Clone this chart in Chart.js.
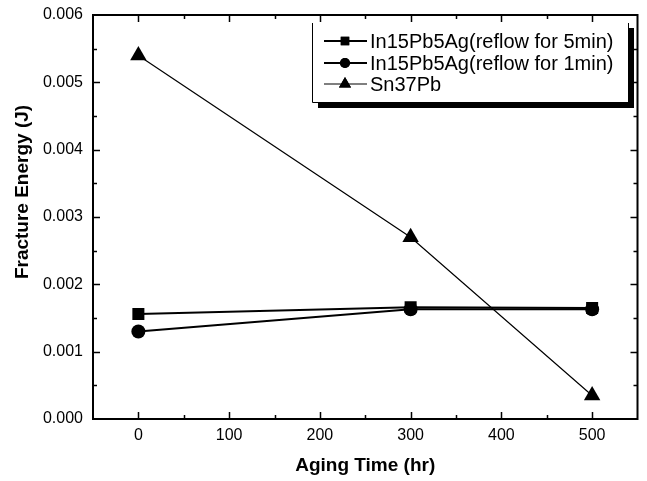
<!DOCTYPE html>
<html>
<head>
<meta charset="utf-8">
<script src="https://cdn.jsdelivr.net/npm/chart.js@4/dist/chart.umd.min.js"></script>
<style>
html,body{margin:0;padding:0;background:#fff;}
canvas{display:block;}
</style>
</head>
<body>
<canvas id="c" width="647" height="481"></canvas>
<script>
// ---- data ----
const agingTime = [0, 300, 500];
const in15Reflow5 = [0.00156, 0.00166, 0.00165];
const in15Reflow1 = [0.00130, 0.00163, 0.00163];
const sn37Pb = [0.00540, 0.00270, 0.00035];
const seriesLabels = ['In15Pb5Ag(reflow for 5min)', 'In15Pb5Ag(reflow for 1min)', 'Sn37Pb'];
const xTickValues = [0, 100, 200, 300, 400, 500];
const yTickValues = [0, 0.001, 0.002, 0.003, 0.004, 0.005, 0.006];
const xTitle = 'Aging Time (hr)';
const yTitle = 'Fracture Energy (J)';

const pts = arr => agingTime.map((x, i) => ({x: x, y: arr[i]}));
const FONT = '"Liberation Sans", Arial, sans-serif';

const framePlugin = {
  id: 'frame',
  afterDraw(chart) {
    const ctx = chart.ctx;
    const a = chart.chartArea;
    const xs = chart.scales.x, ys = chart.scales.y;
    ctx.save();
    ctx.strokeStyle = '#000';
    ctx.lineWidth = 2;
    ctx.strokeRect(a.left, a.top, a.right - a.left, a.bottom - a.top);
    ctx.lineWidth = 1.5;
    for (let v = Math.ceil(xs.min / 50) * 50; v <= xs.max; v += 50) {
      const px = Math.round(xs.getPixelForValue(v)) + 0.5;
      if (px <= a.left + 1 || px >= a.right - 1) continue;
      const len = (v % 100 === 0) ? 7 : 4;
      ctx.beginPath();
      ctx.moveTo(px, a.bottom); ctx.lineTo(px, a.bottom - len);
      ctx.moveTo(px, a.top); ctx.lineTo(px, a.top + len);
      ctx.stroke();
    }
    for (let k = 0; k <= 12; k++) {
      const v = k * 0.0005;
      const py = Math.round(ys.getPixelForValue(v)) + 0.5;
      if (py <= a.top + 1 || py >= a.bottom - 1) continue;
      const len = (k % 2 === 0) ? 7 : 4;
      ctx.beginPath();
      ctx.moveTo(a.left, py); ctx.lineTo(a.left + len, py);
      ctx.moveTo(a.right, py); ctx.lineTo(a.right - len, py);
      ctx.stroke();
    }
    ctx.fillStyle = '#000';
    ctx.font = 'bold 19px ' + FONT;
    ctx.textAlign = 'center';
    ctx.textBaseline = 'middle';
    ctx.fillText(xTitle, (a.left + a.right) / 2, 466);
    ctx.save();
    ctx.translate(23, 192);
    ctx.rotate(-Math.PI / 2);
    ctx.fillText(yTitle, 0, 0);
    ctx.restore();

    const lx = 312, ly = 23, lw = 316, lh = 79;
    ctx.fillStyle = '#000';
    ctx.fillRect(lx + lw, ly + 5, 6, lh + 1);
    ctx.fillRect(lx + 6, ly + lh, lw, 6);
    ctx.fillStyle = '#fff';
    ctx.fillRect(lx, ly, lw, lh);
    ctx.strokeStyle = '#000';
    ctx.lineWidth = 1;
    ctx.beginPath();
    ctx.moveTo(lx + 0.5, ly); ctx.lineTo(lx + 0.5, ly + lh + 0.5);
    ctx.lineTo(lx + lw + 0.5, ly + lh + 0.5); ctx.lineTo(lx + lw + 0.5, ly);
    ctx.stroke();
    const rowsY = [41, 63, 84];
    chart.data.datasets.forEach((ds, i) => {
      const y = rowsY[i];
      ctx.strokeStyle = '#000';
      ctx.lineWidth = ds.borderWidth;
      ctx.beginPath();
      ctx.moveTo(324, y); ctx.lineTo(367, y);
      ctx.stroke();
      ctx.fillStyle = '#000';
      Chart.helpers.drawPoint(ctx, {pointStyle: ds.pointStyle, rotation: 0, borderWidth: 0, radius: ds.legendRadius}, 345, y);
      ctx.fill();
      ctx.fillStyle = '#000';
      ctx.font = '20px ' + FONT;
      ctx.textAlign = 'left';
      ctx.textBaseline = 'middle';
      ctx.fillText(ds.label, 370, y + 1);
    });
    ctx.restore();
  }
};

new Chart(document.getElementById('c'), {
  type: 'line',
  data: {
    datasets: [
      {label: seriesLabels[0], data: pts(in15Reflow5), borderColor: '#000', backgroundColor: '#000',
       borderWidth: 2, pointStyle: 'rect', pointRadius: 8.5, pointBorderWidth: 0, legendRadius: 6},
      {label: seriesLabels[1], data: pts(in15Reflow1), borderColor: '#000', backgroundColor: '#000',
       borderWidth: 2, pointStyle: 'circle', pointRadius: 7, pointBorderWidth: 0, legendRadius: 5},
      {label: seriesLabels[2], data: pts(sn37Pb), borderColor: '#000', backgroundColor: '#000',
       borderWidth: 1.2, pointStyle: 'triangle', pointRadius: 9.5, pointBorderWidth: 0, legendRadius: 7}
    ]
  },
  options: {
    responsive: false,
    animation: false,
    layout: {padding: {left: 0, right: 6, top: 15, bottom: 0}},
    plugins: {legend: {display: false}, tooltip: {enabled: false}},
    elements: {line: {tension: 0}},
    scales: {
      x: {
        type: 'linear', min: -50, max: 550,
        afterFit: s => { s.height = 62; s.paddingLeft = 0; s.paddingRight = 0; },
        afterBuildTicks: s => { s.ticks = xTickValues.map(v => ({value: v})); },
        grid: {display: false, drawTicks: false},
        border: {display: false},
        ticks: {color: '#000', font: {family: FONT, size: 16}, padding: 7, maxRotation: 0,
                callback: v => String(v)}
      },
      y: {
        type: 'linear', min: 0, max: 0.006,
        afterFit: s => { s.width = 93; s.paddingTop = 0; s.paddingBottom = 0; },
        afterBuildTicks: s => { s.ticks = yTickValues.map(v => ({value: v})); },
        grid: {display: false, drawTicks: false},
        border: {display: false},
        ticks: {color: '#000', font: {family: FONT, size: 16}, padding: 10,
                callback: v => Number(v).toFixed(3)}
      }
    }
  },
  plugins: [framePlugin]
});
</script>
</body>
</html>
